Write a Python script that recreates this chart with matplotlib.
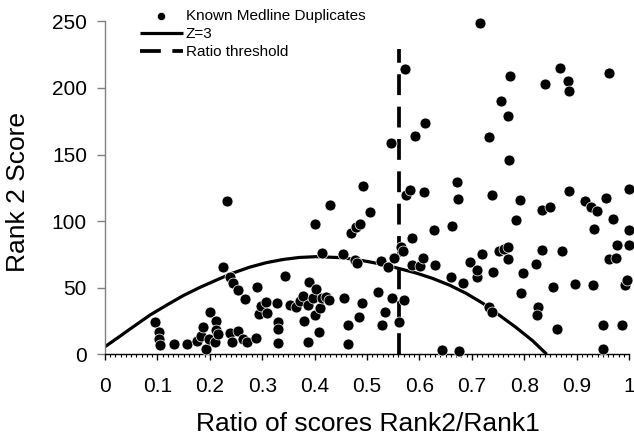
import matplotlib
matplotlib.use("Agg")
import matplotlib.pyplot as plt
from matplotlib.ticker import MultipleLocator

plt.rcParams['font.family'] = ['Liberation Sans', 'DejaVu Sans']
plt.rcParams['lines.scale_dashes'] = False

# known Medline duplicates (ratio rank2/rank1, rank 2 score)
dup_ratio = [
    0.096, 0.103, 0.103, 0.105, 0.132, 0.157, 0.176, 0.183, 0.187, 0.192,
    0.199, 0.201, 0.210, 0.212, 0.212, 0.216, 0.225, 0.233, 0.238, 0.244,
    0.239, 0.243,
    0.254, 0.267, 0.254, 0.263, 0.271, 0.288, 0.290, 0.293, 0.298, 0.307,
    0.309, 0.329, 0.330, 0.331, 0.331, 0.343, 0.354, 0.364, 0.373, 0.377,
    0.380, 0.387, 0.387, 0.390, 0.397, 0.401, 0.401, 0.402, 0.408, 0.411,
    0.415, 0.415, 0.422, 0.427, 0.430, 0.454, 0.456, 0.463, 0.463, 0.469,
    0.477, 0.479, 0.481, 0.484, 0.487, 0.491,
    0.505, 0.521, 0.526, 0.528, 0.534, 0.540, 0.547, 0.552, 0.561, 0.565,
    0.569, 0.570, 0.585, 0.586, 0.602, 0.606, 0.627, 0.629, 0.643, 0.660,
    0.662, 0.676, 0.684, 0.696, 0.709, 0.710, 0.719, 0.732, 0.738, 0.741,
    0.493, 0.545, 0.572, 0.574, 0.582, 0.591, 0.608, 0.610, 0.672, 0.674,
    0.716, 0.732, 0.739, 0.756, 0.770, 0.771, 0.773, 0.785, 0.792, 0.834,
    0.839, 0.850, 0.868, 0.884, 0.886, 0.886, 0.916, 0.928, 0.938, 0.956,
    0.961, 0.970, 1.000,
    1.000, 0.933, 0.977, 1.000, 0.752, 0.762, 0.769, 0.769, 0.834, 0.872,
    0.962, 0.975, 0.797, 0.822, 0.794, 0.855, 0.897, 0.931, 0.993, 0.997,
    0.827, 0.825, 0.863, 0.950, 0.987, 0.950,
]
dup_score = [
    24.5, 16.5, 11.3, 7.2, 7.7, 7.7, 10.0, 13.7, 20.5, 4.0,
    11.3, 31.8, 9.0, 25.0, 18.2, 15.2, 65.5, 115.0, 57.8, 53.3,
    16.0, 9.2,
    48.3, 41.5, 17.7, 11.5, 9.0, 12.2, 50.3, 30.3, 36.3, 39.5,
    31.0, 38.3, 24.5, 19.0, 8.7, 58.8, 37.0, 35.5, 40.3, 43.5,
    25.2, 36.8, 9.2, 54.3, 42.3, 29.5, 97.6, 49.0, 16.7, 34.5,
    42.5, 75.8, 42.8, 40.8, 112.0, 75.3, 42.3, 22.0, 7.7, 90.8,
    70.8, 95.3, 68.8, 28.0, 97.8, 38.5,
    106.8, 47.0, 70.0, 22.0, 31.8, 65.3, 42.3, 72.0, 24.2, 80.8,
    77.5, 40.8, 87.0, 67.0, 66.3, 72.0, 93.3, 67.0, 3.2, 57.8,
    96.3, 2.7, 53.8, 69.0, 58.0, 63.5, 75.3, 35.7, 31.8, 61.5,
    126.4, 158.4, 214.0, 119.6, 123.3, 163.7, 121.6, 173.9, 129.0, 116.6,
    249.0, 163.0, 119.6, 190.0, 179.0, 145.6, 209.0, 100.8, 115.8, 108.3,
    202.7, 110.6, 214.7, 205.4, 198.0, 122.6, 115.0, 110.6, 107.6, 117.3,
    211.0, 101.6, 124.0,
    93.3, 94.0, 82.0, 82.0, 77.5, 79.0, 80.5, 71.5, 78.3, 77.5,
    71.5, 72.3, 61.0, 68.0, 46.3, 50.5, 52.8, 52.0, 52.0, 55.8,
    35.7, 29.5, 19.2, 22.2, 22.2, 4.2,
]

# Z=3 curve
z3_ratio = [0, 0.029, 0.054, 0.086, 0.118, 0.149, 0.181, 0.213, 0.244,
            0.276, 0.308, 0.34, 0.371, 0.403, 0.454, 0.492, 0.530, 0.565,
            0.594, 0.625, 0.657, 0.689, 0.721, 0.752, 0.784, 0.816, 0.843]
z3_score = [5.7, 13.7, 20.7, 29.5, 37, 44, 50.2, 55.8, 61.0,
            65.4, 68.8, 71.2, 72.7, 73.3, 72.5, 70.3, 67.5, 64.0,
            61.0, 57.0, 52.0, 45.8, 38.3, 29.5, 20.3, 10.2, 0]

threshold = 0.562
threshold_top = 229

fig = plt.figure(figsize=(6.34, 4.41), dpi=100)
ax = fig.add_axes([105 / 634, 1 - 354.3 / 441, 524 / 634, 333 / 441])

ax.plot(z3_ratio, z3_score, color='black', lw=2.3, solid_capstyle='butt',
        solid_joinstyle='round', label='Z=3', zorder=2)
ax.plot([threshold, threshold], [0, threshold_top], color='black', lw=2.7,
        linestyle=(0, (15, 8.3)), label='Ratio threshold', zorder=2)
ax.scatter(dup_ratio, dup_score, s=62, c='black', edgecolors='white',
           linewidths=0.5, label='Known Medline Duplicates', zorder=3,
           clip_on=False)

ax.set_xlim(0, 1)
ax.set_ylim(0, 250)
ax.xaxis.set_minor_locator(MultipleLocator(0.01))
ax.yaxis.set_major_locator(MultipleLocator(50))
ax.set_xticks([0, 0.1, 0.2, 0.3, 0.4, 0.5, 0.6, 0.7, 0.8, 0.9, 1.0])
ax.set_xticklabels(['0', '0.1', '0.2', '0.3', '0.4', '0.5', '0.6', '0.7',
                    '0.8', '0.9', '1'])

for s in ['top', 'right']:
    ax.spines[s].set_visible(False)
ax.spines['left'].set_color('#808080')
ax.spines['left'].set_linewidth(1.0)
ax.spines['bottom'].set_color('black')
ax.spines['bottom'].set_linewidth(1.0)

ax.tick_params(axis='x', which='major', direction='out', length=4.2, width=1,
               color='black', labelsize=15, pad=12)
ax.tick_params(axis='x', which='minor', direction='out', length=2.4, width=0.8,
               color='black')
ax.tick_params(axis='y', which='major', direction='out', length=6, width=1,
               color='#808080', labelsize=15, pad=7, labelcolor='black')

ax.set_xlabel('Ratio of scores Rank2/Rank1', fontsize=19)
ax.set_ylabel('Rank 2 Score', fontsize=19)
ax.xaxis.label.set_va('center')
ax.yaxis.label.set_va('center')
ax.xaxis.set_label_coords(0.501, (354.3 - 424) / 333)
ax.yaxis.set_label_coords((18 - 105) / 524, 0.486)

handles, labels = ax.get_legend_handles_labels()
order = [2, 0, 1]
ax.legend([handles[i] for i in order], [labels[i] for i in order],
          loc='upper left', bbox_to_anchor=(140 / 634, 1 - 9 / 441),
          bbox_transform=fig.transFigure, frameon=False, fontsize=11,
          borderpad=0, borderaxespad=0, labelspacing=0.27,
          handlelength=2.8, handletextpad=0.2, markerscale=0.75,
          scatterpoints=1)

fig.savefig('out.png', dpi=100)
